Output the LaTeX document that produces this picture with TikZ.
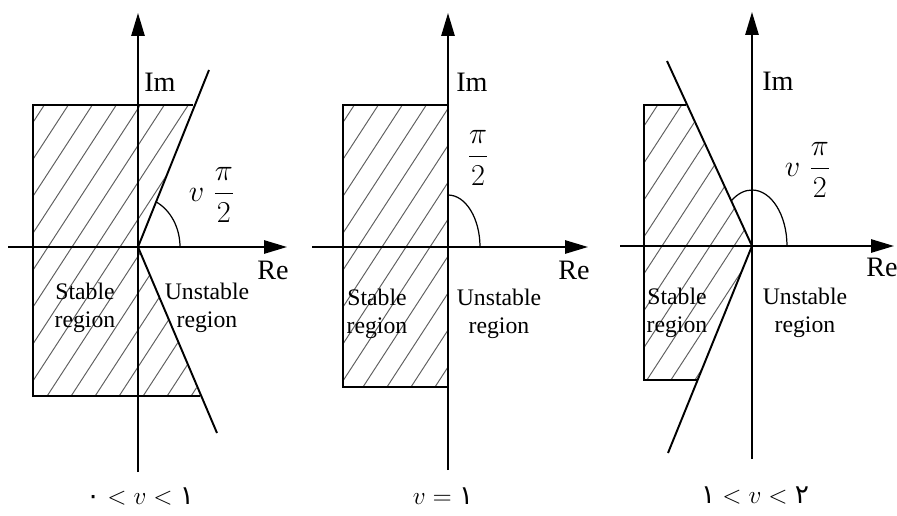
\documentclass[tikz,border=0pt]{standalone}
\usepackage{amsmath}
\usepackage{fontspec}
\setmainfont{Liberation Serif}
\newfontfamily\persianfont[Script=Arabic]{DejaVu Sans}
\usepackage{tikz}
\usetikzlibrary{arrows.meta}
\definecolor{hatchgray}{RGB}{95,95,95}

\begin{document}
\begin{tikzpicture}[
  x=0.02cm, y=0.02cm,
  axis/.style     = {line width=1.1pt, -{Triangle[length=13pt, width=7.5pt]}},
  edge/.style     = {line width=1.1pt},
  hatch/.style    = {line width=0.55pt, hatchgray},
  angarc/.style   = {line width=0.7pt},
  axlabel/.style  = {font=\fontsize{16}{19}\selectfont, inner sep=0pt},
  region/.style   = {font=\fontsize{13.5}{16}\selectfont, align=center, inner sep=0pt},
  anglabel/.style = {font=\fontsize{17}{20}\selectfont, inner sep=0pt},
  caption/.style  = {font=\fontsize{15}{18}\selectfont, inner sep=0pt},
]
  \useasboundingbox (0,0) rectangle (897,515);

  % 0 < v < 1
  \begin{scope}[shift={(138,268)}]
    \coordinate (o1) at (0,0);
    \begin{scope}
      \clip (-105,142) -- (55,142) -- (o1) -- (62,-149) -- (-105,-149) -- cycle;
      \foreach \k in {-405,-381,...,300}
        \draw[hatch] (\k,-300) -- ++(390,600);
    \end{scope}
    \coordinate (up1) at (71,177);
    \coordinate (lo1) at (79,-186);
    \draw[edge] (55,142) -- (-105,142) -- (-105,-149) -- (62,-149);
    \draw[edge] (o1) -- (up1);
    \draw[edge] (o1) -- (lo1);
    \draw[axis] (-130,0) -- (149,0);
    \draw[axis] (0,-225) -- (0,234);
    \draw[angarc] (42,0) arc[start angle=0, end angle=64.5, x radius=42, y radius=50];
    \node[axlabel, anchor=west] (im1) at (6,165) {Im};
    \node[axlabel] (re1) at (135,-23) {Re};
    \node[anglabel] (ang1) at (74,52) {$v\;\dfrac{\pi}{2}$};
    \node[region] (st1) at (-53,-61) {Stable\\region};
    \node[region] (un1) at (69,-61) {Unstable\\region};
    \node[caption] (cap1) at (2,-249)
      {$\mbox{\persianfont ۰} < v < \mbox{\persianfont ۱}$};
  \end{scope}

  % v = 1
  \begin{scope}[shift={(448,268)}]
    \coordinate (o2) at (0,0);
    \begin{scope}
      \clip (-105,142) rectangle (0,-140);
      \foreach \k in {-405,-381,...,300}
        \draw[hatch] (\k,-300) -- ++(390,600);
    \end{scope}
    \draw[edge] (0,142) -- (-105,142) -- (-105,-140) -- (0,-140);
    \draw[axis] (-136,0) -- (140,0);
    \draw[axis] (0,-223) -- (0,234);
    \draw[angarc] (32,0) arc[start angle=0, end angle=90, x radius=32, y radius=52];
    \node[axlabel, anchor=west] (im2) at (8,165) {Im};
    \node[axlabel] (re2) at (126,-23) {Re};
    \node[anglabel] (ang2) at (30,89) {$\dfrac{\pi}{2}$};
    \node[region] (st2) at (-71,-67) {Stable\\region};
    \node[region] (un2) at (51,-67) {Unstable\\region};
    \node[caption] (cap2) at (-5,-249) {$v = \mbox{\persianfont ۱}$};
  \end{scope}

  % 1 < v < 2
  \begin{scope}[shift={(752,269)}]
    \coordinate (o3) at (0,0);
    \begin{scope}
      \clip (-108,141) -- (-66,141) -- (o3) -- (-55,-134) -- (-108,-134) -- cycle;
      \foreach \k in {-405,-381,...,300}
        \draw[hatch] (\k,-300) -- ++(390,600);
    \end{scope}
    \coordinate (up3) at (-85,185);
    \coordinate (lo3) at (-84,-207);
    \draw[edge] (-66,141) -- (-108,141) -- (-108,-134) -- (-55,-134);
    \draw[edge] (o3) -- (up3);
    \draw[edge] (o3) -- (lo3);
    \draw[axis] (-132,0) -- (142,0);
    \draw[axis] (0,-213) -- (0,234);
    \draw[angarc] (35,0) arc[start angle=0, end angle=125.6, x radius=35, y radius=56];
    \node[axlabel, anchor=west] (im3) at (10,165) {Im};
    \node[axlabel] (re3) at (130,-21) {Re};
    \node[anglabel] (ang3) at (56,76) {$v\;\dfrac{\pi}{2}$};
    \node[region] (st3) at (-75,-67) {Stable\\region};
    \node[region] (un3) at (53,-67) {Unstable\\region};
    \node[caption] (cap3) at (3,-249)
      {$\mbox{\persianfont ۱} < v < \mbox{\persianfont ۲}$};
  \end{scope}
\end{tikzpicture}
\end{document}
